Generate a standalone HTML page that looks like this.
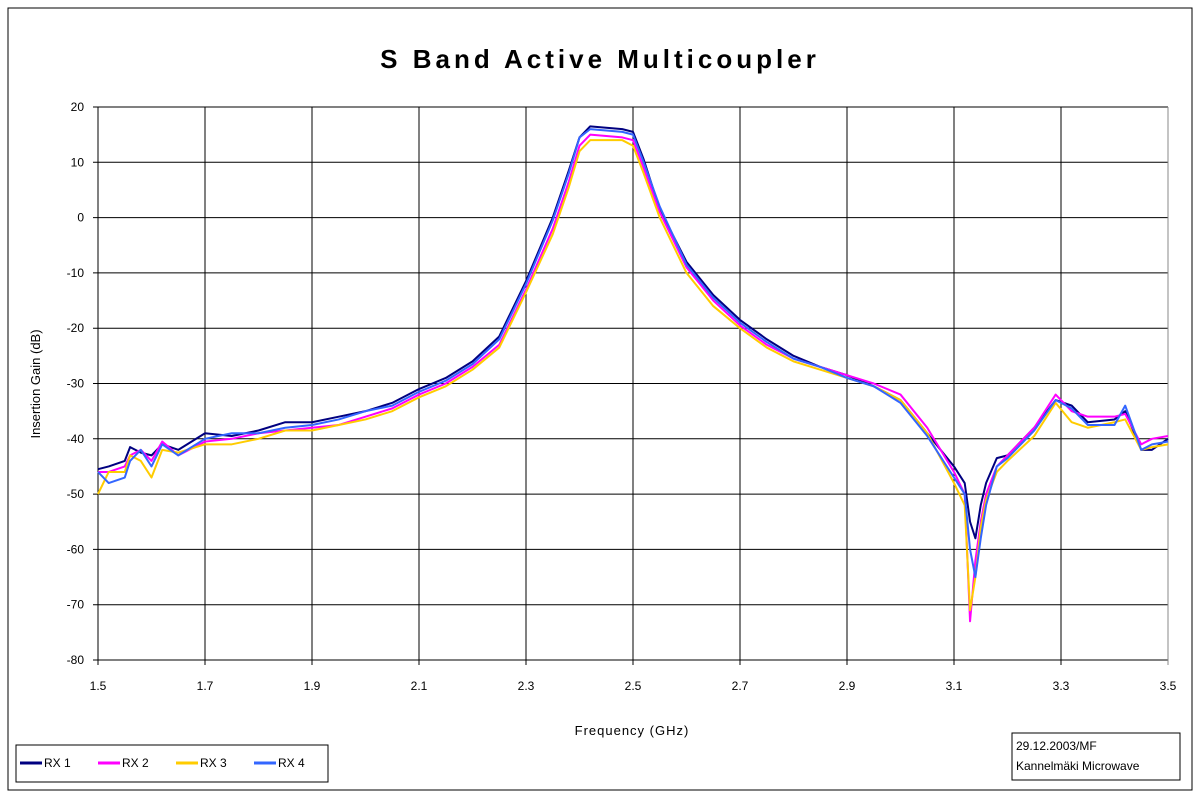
<!DOCTYPE html>
<html><head><meta charset="utf-8"><style>
body{margin:0;background:#fff;}
svg{font-family:"Liberation Sans",sans-serif;}
</style></head><body>
<svg width="1200" height="800">
<rect x="8" y="8" width="1184" height="782" fill="#fff" stroke="#000"/>
<text x="600" y="68" text-anchor="middle" font-size="26" font-weight="bold" letter-spacing="4">S Band Active Multicoupler</text>
<g id="grid"></g>
<g id="series"></g>
<text x="632" y="735" text-anchor="middle" font-size="13" letter-spacing="1">Frequency (GHz)</text>
<text transform="translate(40,384) rotate(-90)" text-anchor="middle" font-size="13">Insertion Gain (dB)</text>
<g>
<rect x="16" y="745" width="312" height="37" fill="#fff" stroke="#000"/>
<g id="legend"></g>
</g>
<g>
<rect x="1012" y="733" width="168" height="47" fill="#fff" stroke="#000"/>
<text x="1016" y="750" font-size="12">29.12.2003/MF</text>
<text x="1016" y="770" font-size="12">Kannelmäki Microwave</text>
</g>
</svg>
<script>
const freq=[1.5,1.52,1.55,1.56,1.58,1.6,1.62,1.65,1.7,1.75,1.8,1.85,1.9,1.95,2.0,2.05,2.1,2.15,2.2,2.25,2.3,2.35,2.38,2.4,2.42,2.48,2.5,2.52,2.55,2.6,2.65,2.7,2.75,2.8,2.85,2.9,2.95,3.0,3.05,3.1,3.12,3.13,3.14,3.15,3.16,3.18,3.2,3.25,3.29,3.32,3.35,3.4,3.42,3.45,3.47,3.5];
const rx1=[-45.5,-45,-44,-41.5,-42.5,-43,-41,-42,-39,-39.5,-38.5,-37,-37,-36,-35,-33.5,-31,-29,-26,-21.5,-11.5,0,8.5,14.5,16.5,16,15.5,10.5,1.5,-8,-14,-18.5,-22,-25,-27,-28.5,-30.5,-33,-39,-45,-48,-55,-58,-52,-48,-43.5,-43,-38,-33,-34,-37,-36.5,-35,-42,-42,-40];
const rx2=[-46,-46,-45,-43,-42,-44,-40.5,-43,-40.5,-40,-39,-38.5,-38,-37.5,-36,-34.5,-32,-30,-27,-23,-13,-2,6.5,13,15,14.5,14,9,1,-9,-15,-19.5,-23,-25.5,-27,-28.5,-30,-32,-38,-46,-50,-73,-62,-55,-50,-45,-43,-38,-32,-35,-36,-36,-35.5,-41,-40,-39.5];
const rx3=[-50,-46,-46,-43,-44,-47,-42,-42.5,-41,-41,-40,-38.5,-38.5,-37.5,-36.5,-35,-32.5,-30.5,-27.5,-23.5,-13.5,-3,5.5,12,14,14,13,8,0,-10,-16,-20,-23.5,-26,-27.5,-29,-30.5,-33,-39,-48,-52,-71,-65,-56,-51,-46,-44,-39.5,-33.5,-37,-38,-37,-36.5,-42,-41.5,-41];
const rx4=[-46,-48,-47,-44,-42,-45,-41,-43,-40,-39,-39,-38,-37.5,-36.5,-35,-34,-31.5,-29.5,-26.5,-22,-12,-0.5,8,14.5,16,15.5,15,10,2,-8.5,-14.5,-19,-22.5,-25.5,-27,-29,-30.5,-33.5,-39.5,-47,-50,-60,-65,-58,-52,-45,-43.5,-38.5,-33,-34.5,-37.5,-37.5,-34,-42,-41,-40.5];
const seriesNames=["RX 1","RX 2","RX 3","RX 4"];
const seriesColors=["#000080","#ff00ff","#ffcc00","#3366ff"];
const xTicks=[1.5,1.7,1.9,2.1,2.3,2.5,2.7,2.9,3.1,3.3,3.5];
const yTicks=[20,10,0,-10,-20,-30,-40,-50,-60,-70,-80];
const X0=98,X1=1168,Y0=107,Y1=660;
const xs=v=>X0+(v-1.5)/2*(X1-X0);
const ys=v=>Y0+(20-v)/100*(Y1-Y0);
const NS="http://www.w3.org/2000/svg";
function mk(t,a,p){const e=document.createElementNS(NS,t);for(const k in a)e.setAttribute(k,a[k]);p.appendChild(e);return e;}
const g=document.getElementById('grid');
yTicks.forEach(v=>{
 const l=mk('line',{x1:X0-5,x2:X1,y1:ys(v),y2:ys(v),stroke:'#000','stroke-width':1},g);
 
 
 const t=mk('text',{x:X0-14,y:ys(v)+4,'text-anchor':'end','font-size':12},g);
 t.textContent=v;
 
 
});
xTicks.forEach(v=>{
 const l=mk('line',{x1:xs(v),x2:xs(v),y1:Y0,y2:Y1+5,stroke:v===3.5?'#888':'#000','stroke-width':1},g);
 
 
 const t=mk('text',{x:xs(v),y:Y1+30,'text-anchor':'middle','font-size':12},g);
 t.textContent=v.toFixed(1);
 
 
});
const s=document.getElementById('series');
[rx1,rx2,rx3,rx4].forEach((d,i)=>{
 const p=mk('polyline',{points:d.map((v,j)=>xs(freq[j])+','+ys(v)).join(' '),fill:'none',stroke:seriesColors[i],'stroke-width':2,'stroke-linejoin':'round'},s);
 
 
});
const lg=document.getElementById('legend');
seriesNames.forEach((n,i)=>{
 const x=20+i*78;
 const l=mk('line',{x1:x,x2:x+22,y1:763,y2:763,stroke:seriesColors[i],'stroke-width':3},lg);
 
 
 const t=mk('text',{x:x+24,y:767,'font-size':12},lg);
 t.textContent=n;
 
 
});
</script>
</body></html>
